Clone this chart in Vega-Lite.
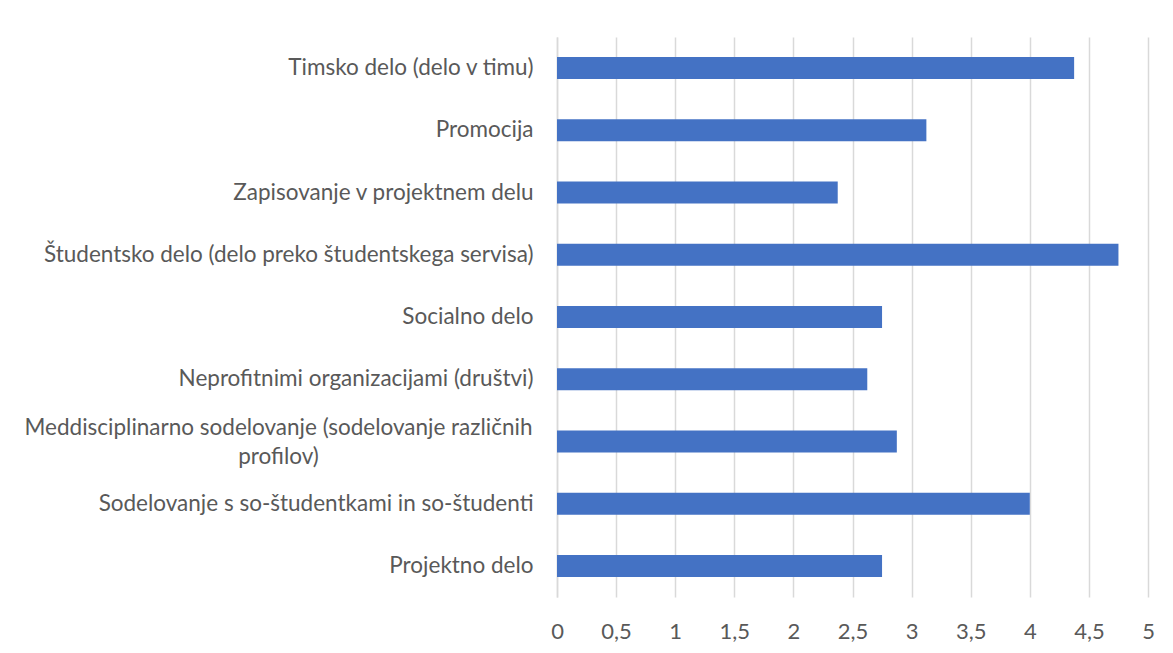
{
  "$schema": "https://vega.github.io/schema/vega-lite/v6.json",
  "autosize": "none",
  "width": 591,
  "height": 560,
  "padding": {"left": 557, "top": 37, "right": 25, "bottom": 56},
  "background": "white",
  "config": {
    "view": {"stroke": null},
    "locale": {"number": {"decimal": ",", "thousands": ".", "grouping": [3], "currency": ["", " €"]}}
  },
  "data": {
    "values": [
      {"kategorija": "Timsko delo (delo v timu)", "vrednost": 4.375},
      {"kategorija": "Promocija", "vrednost": 3.125},
      {"kategorija": "Zapisovanje v projektnem delu", "vrednost": 2.375},
      {"kategorija": "Študentsko delo (delo preko študentskega servisa)", "vrednost": 4.75},
      {"kategorija": "Socialno delo", "vrednost": 2.75},
      {"kategorija": "Neprofitnimi organizacijami (društvi)", "vrednost": 2.625},
      {"kategorija": "Meddisciplinarno sodelovanje (sodelovanje različnih profilov)", "vrednost": 2.875},
      {"kategorija": "Sodelovanje s so-študentkami in so-študenti", "vrednost": 4.0},
      {"kategorija": "Projektno delo", "vrednost": 2.75}
    ]
  },
  "mark": {"type": "bar", "color": "#4472C4"},
  "encoding": {
    "y": {
      "field": "kategorija",
      "type": "nominal",
      "sort": null,
      "scale": {"paddingInner": 0.646, "paddingOuter": 0.323},
      "axis": {
        "title": null,
        "ticks": false,
        "domain": true,
        "domainColor": "#d9d9d9",
        "domainWidth": 1.5,
        "labelFont": "Lato",
        "labelFontSize": 22.5,
        "labelColor": "#595959",
        "labelPadding": {"condition": {"test": "indexof(datum.value, 'Meddisciplinarno') == 0", "value": 279}, "value": 24},
        "labelAlign": {"condition": {"test": "indexof(datum.value, 'Meddisciplinarno') == 0", "value": "center"}, "value": "right"},
        "labelOffset": {"condition": {"test": "indexof(datum.value, 'Meddisciplinarno') == 0", "value": -13}, "value": 0},
        "labelLimit": 600,
        "labelLineHeight": 29,
        "labelExpr": "datum.value == 'Meddisciplinarno sodelovanje (sodelovanje različnih profilov)' ? ['Meddisciplinarno sodelovanje (sodelovanje različnih', 'profilov)'] : datum.value"
      }
    },
    "x": {
      "field": "vrednost",
      "type": "quantitative",
      "scale": {"domain": [0, 5], "nice": false},
      "axis": {
        "title": null,
        "values": [0, 0.5, 1, 1.5, 2, 2.5, 3, 3.5, 4, 4.5, 5],
        "format": ",.1~f",
        "domain": false,
        "ticks": false,
        "grid": true,
        "gridColor": "#d9d9d9",
        "gridWidth": 1.5,
        "labelFont": "Lato",
        "labelFontSize": 22,
        "labelColor": "#595959",
        "labelPadding": 24,
        "labelFlush": false
      }
    }
  }
}
